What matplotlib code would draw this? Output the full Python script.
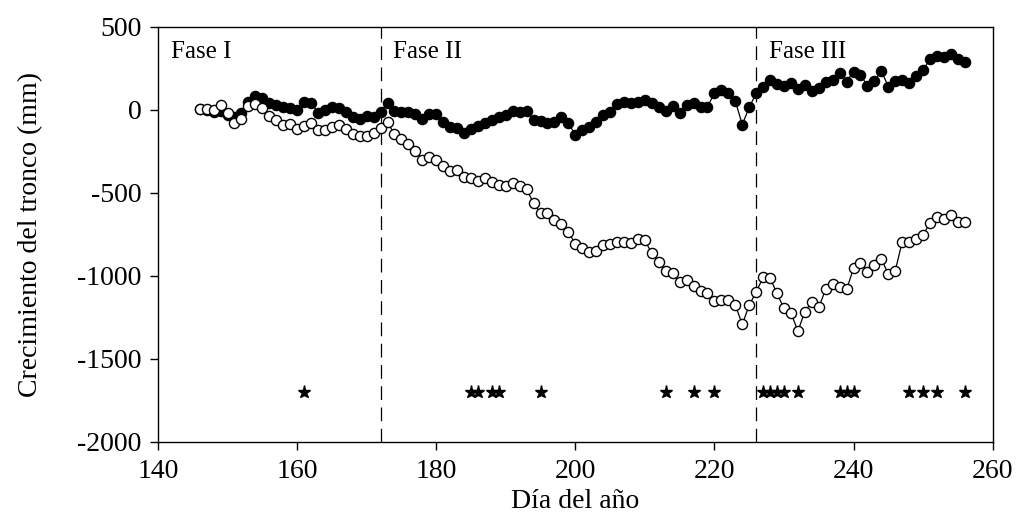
import numpy as np
import matplotlib
matplotlib.use('Agg')
import matplotlib.pyplot as plt

# Daily values, day of year 146 to 256
days = np.arange(146, 257)

# Filled circles
tronco_a = [5, 0, -10, -5, -30, -40, -20, 46, 84, 70,          # 146-155
            40, 30, 16, 14, 0, 46, 44, -16, 0, 16,             # 156-165
            10, -10, -44, -56, -36, -44, -10, 40, -4, -14,     # 166-175
            -14, -26, -54, -24, -26, -70, -100, -110, -140, -114,  # 176-185
            -96, -80, -60, -44, -30, -6, -10, -6, -60, -66,    # 186-195
            -80, -70, -40, -80, -150, -120, -100, -74, -30, -10,  # 196-205
            36, 50, 40, 50, 60, 40, 16, -4, 24, -20,           # 206-215
            32, 42, 18, 20, 100, 118, 104, 55, -88, 15,        # 216-225
            100, 141, 181, 155, 147, 165, 125, 151, 117, 131,  # 226-235
            171, 181, 221, 171, 231, 211, 147, 175, 235, 141,  # 236-245
            177, 181, 161, 207, 241, 306, 322, 318, 336, 306,  # 246-255
            287]                                               # 256

# Open circles
tronco_b = [6, 4, 0, 30, -16, -76, -54, 26, 38, 14,
            -36, -62, -90, -84, -115, -98, -76, -123, -121, -105,
            -92, -113, -145, -157, -157, -140, -110, -75, -145, -177,
            -207, -245, -301, -285, -301, -338, -366, -362, -406, -412,
            -428, -408, -434, -452, -456, -438, -456, -476, -563, -623,
            -623, -663, -689, -734, -808, -834, -858, -848, -816, -806,
            -794, -794, -804, -778, -786, -864, -915, -971, -981, -1035,
            -1025, -1061, -1089, -1105, -1148, -1146, -1146, -1174, -1292, -1177,
            -1096, -1009, -1013, -1105, -1196, -1221, -1333, -1215, -1157, -1190,
            -1080, -1048, -1066, -1081, -955, -921, -975, -937, -898, -989,
            -969, -794, -798, -776, -754, -679, -647, -657, -633, -673,
            -673]

# Days marked with a star
dias_estrella = [161, 185, 186, 188, 189, 195, 213, 217, 220, 227, 228,
                 229, 230, 232, 238, 239, 240, 248, 250, 252, 256]
nivel_estrella = -1700

fases = ['Fase I', 'Fase II', 'Fase III']
inicio_fases = [140, 172, 226]
limites = [172, 226]

plt.rcParams['font.family'] = ['Liberation Serif', 'DejaVu Serif']
plt.rcParams['axes.unicode_minus'] = False

fig = plt.figure(figsize=(10.16, 5.28), dpi=100)
ax = fig.add_axes([0.1555, 0.163, 0.8215, 0.786])

ax.plot(days, tronco_a, color='black', lw=0.9, marker='o', ms=7.3,
        mfc='black', mec='black', zorder=3)
ax.plot(days, tronco_b, color='black', lw=0.9, marker='o', ms=7.3,
        mfc='white', mec='black', mew=1.0, zorder=4)
ax.plot(dias_estrella, [nivel_estrella] * len(dias_estrella), ls='none',
        marker='*', ms=9.5, color='black', zorder=4)

for x in limites:
    ax.axvline(x, color='black', lw=0.9, ls=(0, (11, 6)), zorder=2)

for nombre, x0 in zip(fases, inicio_fases):
    ax.text(x0 + 1.8, 311, nombre, fontsize=18, ha='left', va='baseline')

ax.set_xlim(140, 260)
ax.set_ylim(-2000, 500)
ax.set_xticks([140, 160, 180, 200, 220, 240, 260])
ax.set_yticks([500, 0, -500, -1000, -1500, -2000])
ax.tick_params(direction='out', length=6, width=1, labelsize=20, pad=6,
               top=False, right=False)
for s in ax.spines.values():
    s.set_linewidth(1)

ax.set_xlabel('Día del año', fontsize=20, labelpad=4)
ax.set_ylabel('Crecimiento del tronco (mm)', fontsize=20, labelpad=24)

plt.savefig('out.png', dpi=100)
